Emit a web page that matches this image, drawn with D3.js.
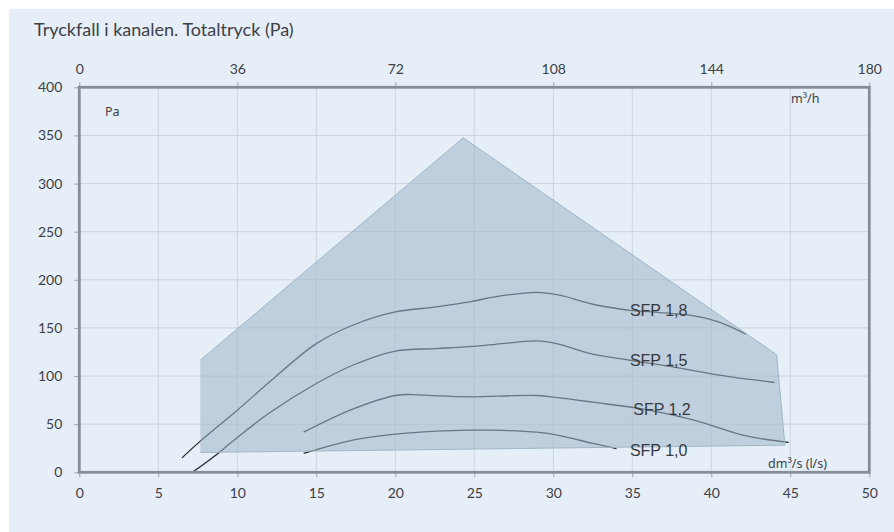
<!DOCTYPE html>
<html>
  <head>
    <title>d3</title>
    <meta charset="utf-8">
    <script src="https://d3js.org/d3.v7.min.js"></script>
    <style type="text/css">
      body { margin: 0; background: #fff; }
      #chart text { font-family: Lato, sans-serif; fill: #3c4148; }
      #chart .tick line { stroke: #9aa3ad; }
      #chart .sfp { font-family: "Liberation Sans", Arial, sans-serif; font-size: 16px; fill: #353a40; }
      #chart .unit { font-family: "Noto Sans", sans-serif; font-size: 12.5px; }
    </style>
  </head>
  <body>
    <svg id="chart"></svg>
    <script>
      // flöde l/s, tryck Pa
      var flowTicks = [0, 5, 10, 15, 20, 25, 30, 35, 40, 45, 50];
      var m3hTicks = [0, 36, 72, 108, 144, 180];
      var paTicks = [0, 50, 100, 150, 200, 250, 300, 350, 400];

      var envelope = [[7.66, 116.5], [24.3, 347.5], [44.13, 122.3], [44.66, 28.2], [7.66, 20.6]];

      var sfp18 = [[6.5, 15], [7.66, 32.4], [10, 64.5], [12.05, 94], [15, 133.7], [17.3, 152.8], [20, 166.6],
                   [22.6, 171.8], [24.7, 177], [26.2, 182], [28.95, 187], [30.4, 184], [32.5, 174.6],
                   [34.85, 168.3], [36.75, 166], [38.9, 162.5], [40.5, 156], [42.2, 143.4]];
      var sfp15 = [[7.2, 0.5], [8.78, 19.6], [10, 36.2], [12.05, 61.8], [15, 92.2], [17.3, 111.2], [20, 126],
                   [22.6, 128.5], [24.7, 130.6], [26.2, 132.7], [28.95, 136.5], [30.2, 133.7], [32.5, 122.7],
                   [34.85, 116.4], [37.8, 108.8], [40.5, 100.9], [44.0, 93.3]];
      var sfp12 = [[14.2, 41.7], [17.3, 65.6], [20, 79.8], [21.1, 80.8], [22.6, 79.4], [24.7, 78.4],
                   [28.95, 79.8], [30.4, 77.3], [32.5, 72.8], [35.7, 65.6], [38.9, 54.2], [42, 38.6], [44.9, 31]];
      var sfp10 = [[14.2, 19.6], [17.3, 33.4], [20, 39.6], [22.6, 42.7], [24.7, 43.8], [26.2, 43.8],
                   [28.95, 41.7], [30.4, 38.2], [32.5, 30], [34, 24.7]];

      var curves = [sfp18, sfp15, sfp12, sfp10];
      var labels = ["SFP 1,8", "SFP 1,5", "SFP 1,2", "SFP 1,0"];
      var labelPos = [[34.85, 162], [34.85, 110.5], [35.06, 59.3], [34.85, 17]];

      var width = 894, height = 532;
      var pLeft = 79.3, pRight = 869.3, pTop = 87.3, pBottom = 472.3;

      var x = d3.scaleLinear().domain([0, 50]).range([pLeft, pRight]);
      var xTop = d3.scaleLinear().domain([0, 180]).range([pLeft, pRight]);
      var y = d3.scaleLinear().domain([0, 400]).range([pBottom, pTop]);

      var chart = d3.select("#chart")
          .attr("width", width)
          .attr("height", height);

      // bakgrund
      chart.append("rect")
          .attr("x", 9).attr("y", 9)
          .attr("width", width - 9).attr("height", height - 9)
          .attr("fill", "#e6eef8");

      chart.append("text")
          .attr("x", 34).attr("y", 36)
          .style("font-size", "18px")
          .text("Tryckfall i kanalen. Totaltryck (Pa)");

      // rutnät
      chart.append("g").selectAll("line")
          .data(flowTicks)
          .enter().append("line")
            .attr("x1", x).attr("x2", x)
            .attr("y1", pTop).attr("y2", pBottom)
            .attr("stroke", "#cbd4df");
      chart.append("g").selectAll("line")
          .data(paTicks)
          .enter().append("line")
            .attr("x1", pLeft).attr("x2", pRight)
            .attr("y1", y).attr("y2", y)
            .attr("stroke", "#cbd4df");

      // axlar
      var ax = chart.append("g")
          .attr("transform", "translate(0," + pBottom + ")")
          .call(d3.axisBottom(x).tickValues(flowTicks).tickSize(5).tickPadding(11));
      var axTop = chart.append("g")
          .attr("transform", "translate(0," + pTop + ")")
          .call(d3.axisTop(xTop).tickValues(m3hTicks).tickSize(5).tickPadding(8));
      var ay = chart.append("g")
          .attr("transform", "translate(" + pLeft + ",0)")
          .call(d3.axisLeft(y).tickValues(paTicks).tickSize(5).tickPadding(12));
      [ax, axTop, ay].forEach(function(g) {
        g.select(".domain").remove();
        g.selectAll("text").style("font-size", "14px").style("font-family", "Lato, sans-serif").attr("fill", "#3c4148");
      });

      // kurvor
      var line = d3.line()
          .x(function(d) { return x(d[0]); })
          .y(function(d) { return y(d[1]); })
          .curve(d3.curveCatmullRom.alpha(0.5));

      chart.append("g").selectAll("path")
          .data(curves)
          .enter().append("path")
            .attr("d", line)
            .attr("fill", "none")
            .attr("stroke", "#262a2f")
            .attr("stroke-width", 1.3);

      // arbetsområde
      chart.append("path")
          .datum(envelope)
          .attr("d", d3.line().x(function(d) { return x(d[0]); }).y(function(d) { return y(d[1]); }))
          .attr("fill", "rgba(160,183,198,0.55)")
          .attr("stroke", "#9fb6c6")
          .attr("stroke-width", 1);

      chart.append("g").selectAll("text")
          .data(labels)
          .enter().append("text")
            .attr("class", "sfp")
            .attr("x", function(d, i) { return x(labelPos[i][0]); })
            .attr("y", function(d, i) { return y(labelPos[i][1]); })
            .text(function(d) { return d; });

      // ram
      chart.append("rect")
          .attr("x", pLeft).attr("y", pTop)
          .attr("width", pRight - pLeft).attr("height", pBottom - pTop)
          .attr("fill", "none")
          .attr("stroke", "#878e97")
          .attr("stroke-width", 2.8);

      chart.append("text").attr("class", "unit").attr("x", 105).attr("y", 116).text("Pa");
      chart.append("text").attr("class", "unit").attr("x", 791).attr("y", 103).text("m³/h");
      chart.append("text").attr("class", "unit").attr("x", 768).attr("y", 468).text("dm³/s (l/s)");
    </script>
  </body>
</html>
